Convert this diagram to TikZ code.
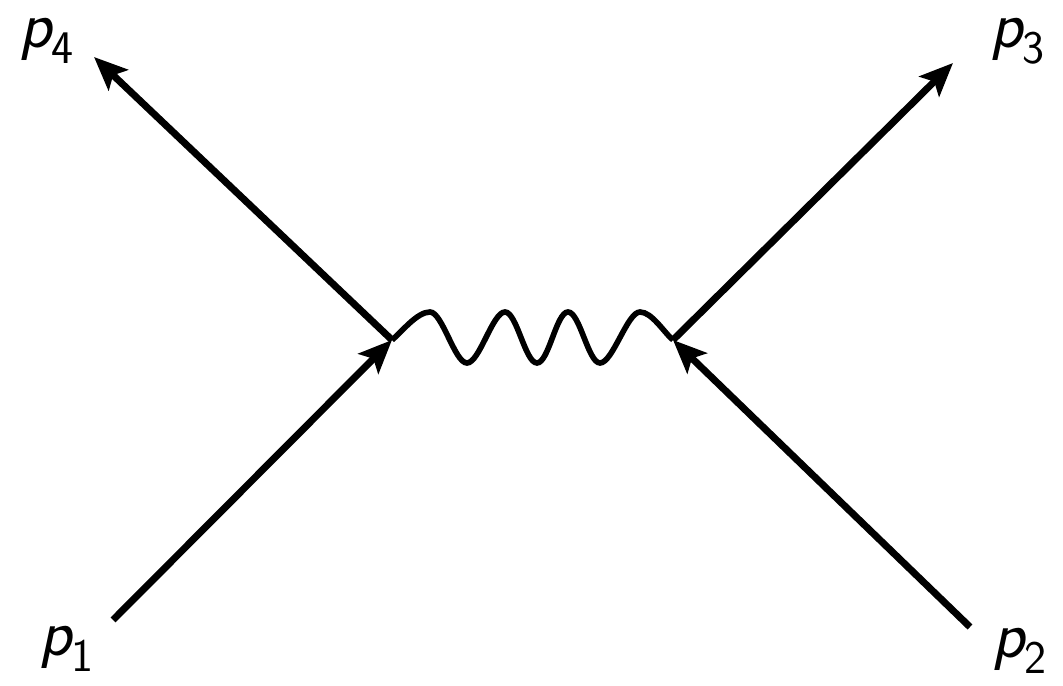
\documentclass[tikz,border=0pt]{standalone}
\usepackage{amsmath}
\usepackage{tikz}
\usetikzlibrary{arrows.meta}

\newcommand{\mom}[1]{$\textsf{\slshape p}_{\textsf{#1}}$}

\begin{document}
\begin{tikzpicture}[
    every node/.style={font=\fontsize{38}{44}\selectfont, inner sep=0pt},
    fermion/.style={line width=4pt, -{Stealth[length=19pt,width=16pt,inset=4pt]}},
    photon/.style={line width=3.2pt, looseness=0.5}
  ]
  \useasboundingbox (0,0) rectangle (21.26,13.72);

  % =========================
  % vertices and external points
  % =========================
  \coordinate (v1) at (7.84,6.92);
  \coordinate (v2) at (13.46,6.92);
  \coordinate (p1) at (2.26,1.32);
  \coordinate (p2) at (19.40,1.18);
  \coordinate (p3) at (19.06,12.46);
  \coordinate (p4) at (1.88,12.58);

  % incoming / outgoing lines
  \draw[fermion] (p1) -- (v1);
  \draw[fermion] (p2) -- (v2);
  \draw[fermion] (v1) -- (p4);
  \draw[fermion] (v2) -- (p3);

  % exchanged boson
  \draw[photon] (v1)
    to[out=40,in=180,looseness=0.7] (8.60,7.48)
    to[out=0,in=180]  (9.34,6.46)
    to[out=0,in=180]  (10.10,7.48)
    to[out=0,in=180]  (10.74,6.46)
    to[out=0,in=180]  (11.36,7.48)
    to[out=0,in=180]  (12.00,6.46)
    to[out=0,in=180]  (12.80,7.48)
    to[out=0,in=140,looseness=0.7]  (v2);

  % labels
  \node (l1) at (1.34,0.74)  {\mom{1}};
  \node (l2) at (20.40,0.70) {\mom{2}};
  \node (l3) at (20.36,12.90) {\mom{3}};
  \node (l4) at (0.94,12.90) {\mom{4}};

\end{tikzpicture}
\end{document}
